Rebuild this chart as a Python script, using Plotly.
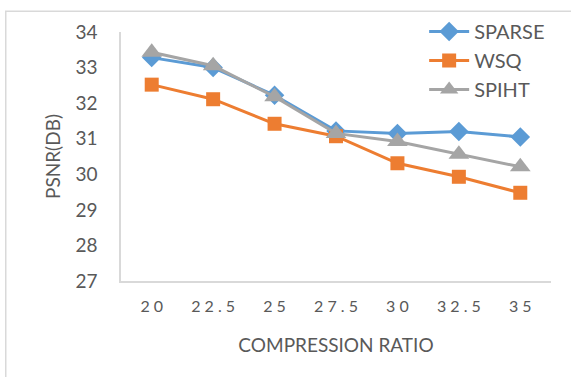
import plotly.graph_objects as go

categories = ["20", "22.5", "25", "27.5", "30", "32.5", "35"]
sparse = [33.28, 33.0, 32.22, 31.22, 31.15, 31.2, 31.05]
wsq = [32.52, 32.11, 31.42, 31.07, 30.31, 29.93, 29.48]
spiht = [33.43, 33.05, 32.18, 31.15, 30.92, 30.56, 30.21]
y_ticks = [27, 28, 29, 30, 31, 32, 33, 34]

TXT = "#595959"
FONT = "Lato"

fig = go.Figure()
series = [
    ("SPARSE", sparse, "#5B9BD5", "diamond", 15),
    ("WSQ", wsq, "#ED7D31", "square", 14),
    ("SPIHT", spiht, "#A5A5A5", "triangle-up", 18),
]
for name, vals, col, sym, sz in series:
    fig.add_trace(go.Scatter(
        x=categories, y=vals, name=name, mode="lines+markers",
        line=dict(color=col, width=3),
        marker=dict(symbol=sym, size=sz, color=col),
        legendgroup=name,
    ))

spaced = [" ".join(list(c)) for c in categories]

fig.update_layout(
    width=571, height=377,
    margin=dict(l=121, r=20, t=29, b=96),
    paper_bgcolor="white", plot_bgcolor="white",
    font=dict(family=FONT, color=TXT),
    showlegend=True,
    legend=dict(x=0.705, y=1.08, xanchor="left", yanchor="top",
                font=dict(size=20, color=TXT, family=FONT),
                bgcolor="rgba(0,0,0,0)", tracegroupgap=0,
                traceorder="grouped", itemwidth=40),
    xaxis=dict(type="category", tickvals=categories, ticktext=spaced,
               range=[-0.5, 6.5],
               showline=True, linecolor="#D9D9D9", linewidth=1.5,
               showgrid=False, zeroline=False, ticks="",
               ticklabelstandoff=10,
               tickfont=dict(size=16, color=TXT, family=FONT),
               title=dict(text="COMPRESSION RATIO", font=dict(size=19, color=TXT, family=FONT), standoff=25)),
    yaxis=dict(range=[27, 34], tickvals=y_ticks,
               showline=True, linecolor="#D9D9D9", linewidth=1.5,
               showgrid=False, zeroline=False, ticks="",
               ticklabelstandoff=18,
               tickfont=dict(size=19, color=TXT, family=FONT),
               title=dict(text="PSNR(DB)", font=dict(size=19, color=TXT, family=FONT), standoff=10)),
)
fig.add_shape(type="rect", xref="paper", yref="paper",
              x0=-0.268, x1=1.2, y0=-0.5, y1=1.083,
              line=dict(color="#D9D9D9", width=1.5), fillcolor="rgba(0,0,0,0)", layer="below")

fig.write_html("out.html")
